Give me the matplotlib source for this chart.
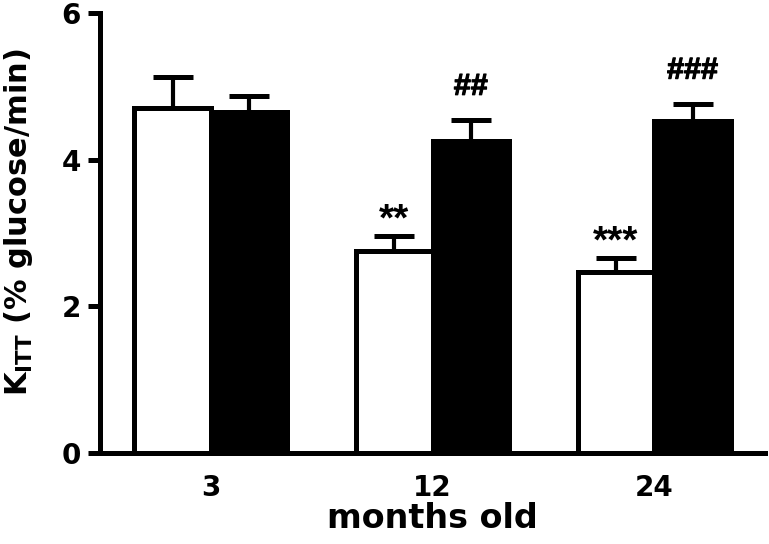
import matplotlib
matplotlib.use("Agg")
import matplotlib.pyplot as plt
import matplotlib.patheffects as pe
import numpy as np

# data
ages = ["3", "12", "24"]
young_vals = [4.71, 2.76, 2.47]     # white bars
young_err = [0.42, 0.20, 0.19]
treated_vals = [4.65, 4.26, 4.53]   # black bars
treated_err = [0.22, 0.28, 0.23]
young_marks = ["", "**", "***"]
treated_marks = ["", "##", "###"]

plt.rcParams["font.family"] = ["DejaVu Sans"]
plt.rcParams["font.weight"] = "bold"

fig = plt.figure(figsize=(7.69, 5.44), dpi=100)
ax = fig.add_axes([0.130, 0.167, 0.865, 0.809])

x = np.arange(len(ages))
w = 0.345
lw = 3.6

ax.bar(x - w / 2, young_vals, w, color="white", edgecolor="black", linewidth=lw, zorder=2)
ax.bar(x + w / 2, treated_vals, w, color="black", edgecolor="black", linewidth=lw, zorder=2)

for xs, vals, errs in [(x - w / 2, young_vals, young_err), (x + w / 2, treated_vals, treated_err)]:
    ax.errorbar(xs, vals, yerr=[np.zeros(len(errs)), errs], fmt="none", ecolor="black",
                elinewidth=3.0, capsize=14.4, capthick=3.6, zorder=1)

# significance marks: asterisks sit high in the em box, so they need less offset;
# the hashes get a thin stroke so they read as heavy as in the original
hash_fx = [pe.withStroke(linewidth=0.8, foreground="black")]
for xs, vals, errs, marks, off, size, fx in [
        (x - w / 2, young_vals, young_err, young_marks, 11, 28, None),
        (x + w / 2, treated_vals, treated_err, treated_marks, 24, 22, hash_fx)]:
    for xi, v, e, m in zip(xs, vals, errs, marks):
        if m:
            ax.annotate(m, (xi, v + e), xytext=(0, off), textcoords="offset points",
                        ha="center", va="center", fontsize=size, fontweight="bold",
                        family="Liberation Sans", path_effects=fx)

ax.set_xlim(-0.5, 2.5)
ax.set_ylim(0, 6)
ax.set_yticks([0, 2, 4, 6])
ax.set_xticks(x)
ax.set_xticklabels(ages)
ax.tick_params(axis="y", direction="out", length=8.6, width=3.6, labelsize=20, pad=5)
ax.tick_params(axis="x", length=0, labelsize=20, pad=15)
for lab in ax.get_xticklabels() + ax.get_yticklabels():
    lab.set_fontweight("bold")

for side in ["top", "right"]:
    ax.spines[side].set_visible(False)
for side in ["left", "bottom"]:
    ax.spines[side].set_linewidth(3.6)
    ax.spines[side].set_zorder(3)

ax.set_xlabel("months old", fontsize=24, fontweight="bold")
ax.xaxis.set_label_coords(0.5, -0.112)
ax.set_ylabel(r"K$_{\mathbf{ITT}}$ (% glucose/min)", fontsize=22, fontweight="bold")
ax.yaxis.set_label_coords(-0.097, 0.525)

fig.savefig("out.png", dpi=100)
